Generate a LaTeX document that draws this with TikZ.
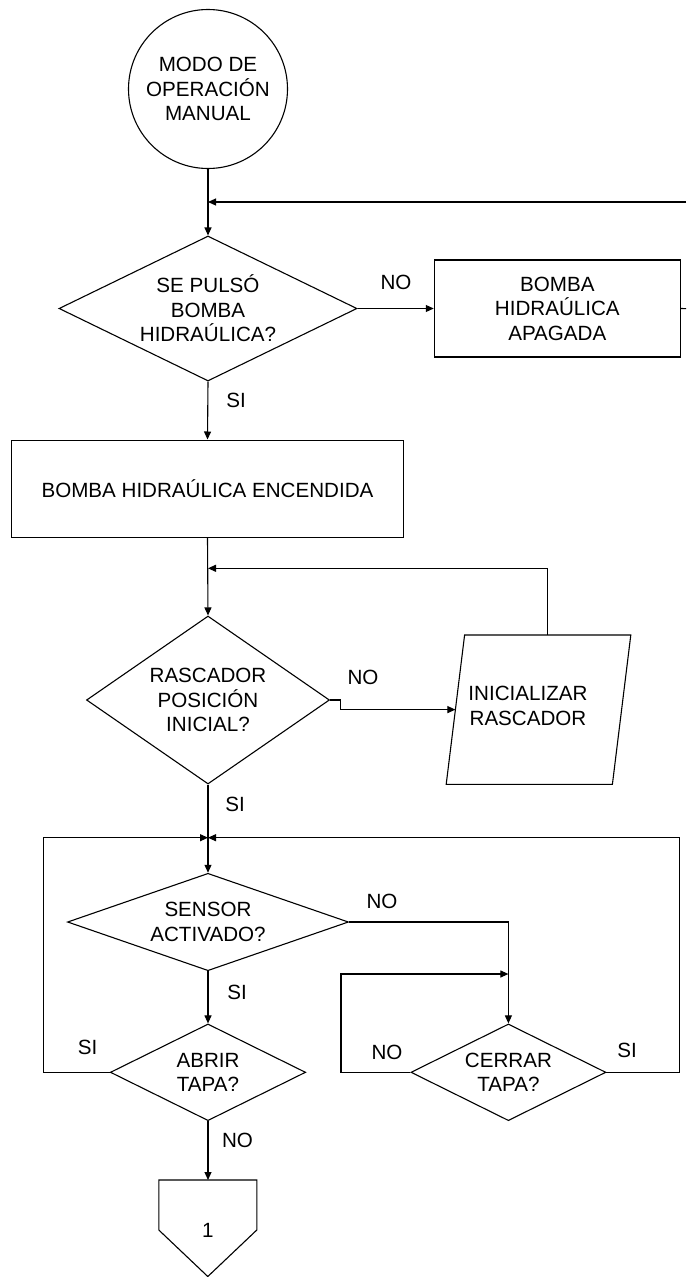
\documentclass[tikz,border=0pt]{standalone}
\usepackage{fontspec}
\setmainfont{Liberation Sans}
\usetikzlibrary{shapes.geometric,arrows.meta}
\begin{document}
\begin{tikzpicture}[x=1pt,y=-1pt,
  every node/.style={font=\fontsize{20.6}{24.5}\selectfont, inner sep=0pt, align=center},
  flow/.style={line width=1.1pt, draw=black},
  arr/.style={flow, -{Triangle[length=8pt,width=7pt]}},
  decision/.style={diamond, draw, line width=1.1pt},
  process/.style={rectangle, draw, line width=1.1pt},
  terminal/.style={circle, draw, line width=1.1pt}]
\useasboundingbox (0,0) rectangle (686,1277);

% shapes
\node[terminal, minimum size=159pt] (start) at (208,89) {MODO DE\\OPERACIÓN\\MANUAL};
\node[decision, minimum width=298pt, minimum height=145pt, aspect=2.055] (q1) at (208,308.5) {SE PULSÓ\\BOMBA\\HIDRAÚLICA?};
\node[process, minimum width=246pt, minimum height=97pt] (off) at (557.3,308.5) {BOMBA\\HIDRAÚLICA\\APAGADA};
\node[process, minimum width=391.5pt, minimum height=97.3pt] (on) at (207.5,488.7) {BOMBA HIDRAÚLICA ENCENDIDA};
\node[decision, minimum width=243pt, minimum height=168pt, aspect=1.45] (q2) at (208,700) {RASCADOR\\POSICIÓN\\INICIAL?};

% input/output parallelogram
\coordinate (pBL) at (446.2,784.3);
\coordinate (pTL) at (464.6,635);
\coordinate (pTR) at (630.8,635);
\coordinate (pBR) at (612.4,784.3);
\draw[flow] (pBL) -- (pTL) -- (pTR) -- (pBR) -- cycle;
\coordinate (ptop) at (547.7,635);
\coordinate (pwest) at (455.4,709.6);
\node (initlbl) at (528,706) {INICIALIZAR\\RASCADOR};

\node[decision, minimum width=281pt, minimum height=97.4pt, aspect=2.9] (q3) at (208,922) {SENSOR\\ACTIVADO?};
\node[decision, minimum width=195.3pt, minimum height=96.7pt, aspect=2] (q4) at (208,1072.3) {ABRIR\\TAPA?};
\node[decision, minimum width=195pt, minimum height=96.7pt, aspect=2] (q5) at (508.4,1072.3) {CERRAR\\TAPA?};

% off-page connector
\draw[flow] (158.8,1180) -- (256.8,1180) -- (256.8,1230) -- (207.8,1276.5) -- (158.8,1230) -- cycle;
\node (conn) at (207.8,1230) {1};
\coordinate (optop) at (208,1180);

% junction points
\coordinate (loopA) at (208,202);
\coordinate (edgeA) at (686,202);
\coordinate (edgeB) at (686,308.6);
\coordinate (loopB) at (208,568.3);
\coordinate (loopC) at (208,837.7);
\coordinate (loopD) at (508.4,974);

% connectors
\draw[arr] (start.south) -- (q1.north);
\draw[arr] (edgeA) -- (loopA);
\draw[arr] (q1.east) -- (off.west);
\draw[flow] (off.east) -- (edgeB);
\draw[arr] (q1.south) -- (on.north);
\draw[arr] (on.south) -- (q2.north);
\draw[arr] (ptop) |- (loopB);
\draw[arr] (q2.east) -- ++(10,0) |- (pwest);
\draw[arr] (q2.south) -- (q3.north);
\draw[arr] (q3.south) -- (q4.north);
\draw[arr] (q4.west) -- (43.7,1072.3) |- (loopC);
\draw[arr] (q5.east) -| (679.4,837.7) -- (loopC);
\draw[arr] (q3.east) -| (q5.north);
\draw[arr] (q5.west) -- (341,1072.3) |- (loopD);
\draw[arr] (q4.south) -- (optop);

% branch labels
\node (l1) at (396,282) {NO};
\node (l2) at (236,400) {SI};
\node (l3) at (363,677) {NO};
\node (l4) at (235,804) {SI};
\node (l5) at (382,901) {NO};
\node (l6) at (237,992) {SI};
\node (l7) at (87.5,1047) {SI};
\node (l8) at (387,1052) {NO};
\node (l9) at (627,1050) {SI};
\node (l10) at (237.5,1140) {NO};
\end{tikzpicture}
\end{document}
